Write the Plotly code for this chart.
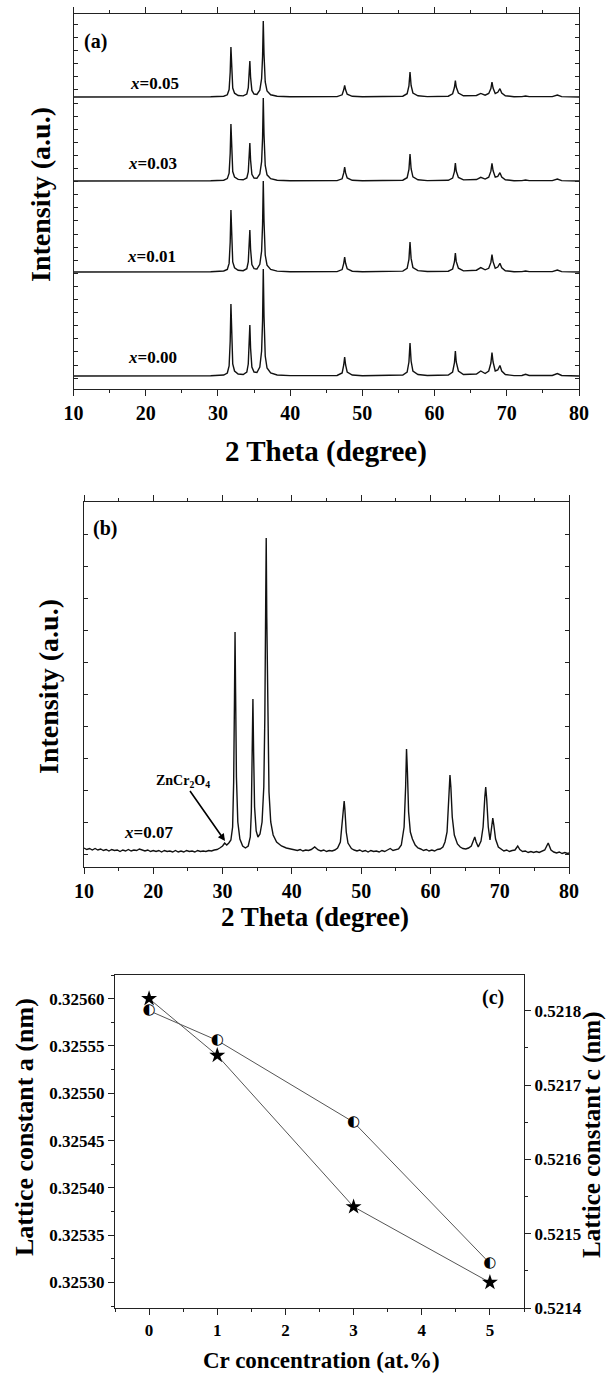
import plotly.graph_objects as go

W, H = 606, 1374
FONT = "Liberation Serif"
INK = "#111111"

# ---------------- Panel (a): stacked XRD patterns ----------------
TT_A = [10, 20, 29, 30.8, 31.3, 31.55, 31.7, 31.8, 31.9, 32.05,
        32.3, 32.8, 33.5, 34.0, 34.2, 34.32, 34.42, 34.52, 34.7, 35.0,
        35.4, 35.8, 36.05, 36.18, 36.28, 36.38, 36.55, 36.8, 37.3, 38.2,
        40, 46.5, 47.2, 47.42, 47.55, 47.68, 47.9, 48.6, 50, 55.6,
        56.2, 56.45, 56.6, 56.75, 57.0, 57.7, 59, 61.9, 62.5, 62.75,
        62.88, 63.0, 63.3, 64.0, 65.8, 66.4, 67.0, 67.5, 67.8, 67.95,
        68.1, 68.4, 68.75, 69.05, 69.3, 69.8, 71, 72.1, 72.6, 73.1,
        76.3, 77.0, 77.6, 80]

I_X000 = [0, 0, 0.3, 1, 3, 10, 35, 72, 38, 12,
          5, 2, 1.5, 4, 12, 32, 51, 28, 9, 4,
          3.5, 9, 25, 55, 107, 60, 20, 8, 3, 1,
          0.4, 0.5, 3, 11, 19, 11, 4, 1, 0.3, 1,
          4, 14, 33, 15, 5, 1.5, 0.5, 1, 4, 13,
          25, 14, 5, 1.5, 2, 5, 2.5, 5, 13, 23.5,
          14, 5, 6, 10.5, 5, 1.5, 0.4, 0.5, 1.7, 0.5,
          0.5, 2.5, 0.5, 0]

I_X001 = [0, 0, 0.3, 1, 2.6, 8.6, 30, 62, 33, 10,
          4.3, 1.7, 1.3, 3.3, 10, 26, 42, 23, 7.4, 3.3,
          3, 7.7, 21, 47, 91, 51, 17, 6.8, 2.6, 0.9,
          0.3, 0.4, 2.4, 8.7, 15, 8.7, 3.2, 0.8, 0.3, 0.9,
          3.6, 12.7, 30, 13.6, 4.5, 1.4, 0.5, 0.8, 3, 10,
          19, 10.6, 3.8, 1.1, 1.8, 4.4, 2.2, 3.7, 9.6, 17.5,
          10.4, 3.7, 5, 8.7, 4.2, 1.2, 0.3, 0.4, 1, 0.4,
          0.4, 2, 0.4, 0]

I_X003 = [0, 0, 0.3, 0.8, 2.4, 7.9, 27.7, 57, 30, 9.5,
          4, 1.6, 1.2, 3, 9, 24, 38, 21, 6.7, 3,
          2.7, 7, 19.4, 42.7, 83, 46.5, 15.5, 6.2, 2.3, 0.8,
          0.3, 0.4, 2.2, 8.1, 14, 8.1, 3, 0.7, 0.2, 0.8,
          3.3, 11.5, 27, 12.3, 4.1, 1.2, 0.4, 0.7, 2.9, 9.4,
          18, 10, 3.6, 1.1, 1.5, 3.7, 1.9, 3.8, 9.8, 17.6,
          10.5, 3.8, 4.7, 8.3, 4, 1.2, 0.3, 0.4, 1, 0.4,
          0.4, 2, 0.4, 0]

I_X005 = [0, 0, 0.3, 0.8, 2.2, 7.5, 25, 50, 27, 9,
          3.8, 1.5, 1.1, 3, 9, 23, 36, 20, 6.6, 3,
          2.6, 6.8, 18.5, 40, 76, 43, 15, 6, 2.2, 0.8,
          0.3, 0.4, 2.2, 7.2, 11.6, 7.2, 2.8, 0.7, 0.2, 0.8,
          3.3, 11, 25, 11.5, 4, 1.2, 0.4, 0.8, 3.2, 9.5,
          16.5, 10, 4, 1.2, 1.5, 3.6, 1.8, 3.5, 8.5, 15,
          9, 3.5, 4.7, 8.3, 4, 1.2, 0.3, 0.4, 1, 0.4,
          0.4, 2, 0.4, 0]

SERIES_A = [I_X000, I_X001, I_X003, I_X005]
OFFSETS_A = [13, 117, 208, 292]
LABELS_A = ["0.00", "0.01", "0.03", "0.05"]

# ---------------- Panel (b): x = 0.07 pattern ----------------
TT_B = [10.0, 10.4, 10.8, 11.2, 11.6, 12.0, 12.4, 12.8, 13.2, 13.6,
        14.0, 14.4, 14.8, 15.2, 15.6, 16.0, 16.4, 16.8, 17.2, 17.6,
        18.0, 18.4, 18.8, 19.2, 19.6, 20.0, 20.4, 20.8, 21.2, 21.6,
        22.0, 22.4, 22.8, 23.2, 23.6, 24.0, 24.4, 24.8, 25.2, 25.6,
        26.0, 26.4, 26.8, 27.2, 27.6, 28.0, 28.4, 28.8, 29.2, 29.6,
        30.0, 30.3, 30.6, 30.9, 31.2, 31.45, 31.6, 31.72, 31.8, 31.88,
        32.0, 32.2, 32.5, 32.9, 33.3, 33.7, 34.0, 34.15, 34.28, 34.38,
        34.48, 34.62, 34.85, 35.1, 35.4, 35.7, 35.95, 36.1, 36.22, 36.3,
        36.38, 36.52, 36.7, 36.95, 37.3, 37.8, 38.5, 39.2, 40.0, 40.8,
        41.2, 41.6, 42.0, 42.4, 42.8, 43.3, 43.8, 44.2, 44.6, 45.0,
        45.4, 45.8, 46.2, 46.6, 47.0, 47.3, 47.45, 47.55, 47.65, 47.85,
        48.1, 48.6, 49.0, 49.4, 49.8, 50.2, 50.6, 51.0, 51.4, 51.8,
        52.2, 52.6, 53.0, 53.4, 53.8, 54.2, 54.6, 55.0, 55.4, 55.8,
        56.2, 56.42, 56.55, 56.68, 56.85, 57.1, 57.4, 57.8, 58.2, 58.6,
        59.0, 59.4, 59.8, 60.2, 60.6, 61.0, 61.4, 61.8, 62.1, 62.4,
        62.65, 62.82, 62.95, 63.15, 63.45, 63.9, 64.3, 64.7, 65.1, 65.5,
        65.9, 66.2, 66.4, 66.6, 66.9, 67.3, 67.6, 67.85, 67.98, 68.12,
        68.35, 68.6, 68.85, 69.0, 69.15, 69.4, 69.8, 70.2, 70.6, 71.0,
        71.4, 71.8, 72.2, 72.6, 72.9, 73.3, 73.7, 74.1, 74.5, 74.9,
        75.3, 75.7, 76.1, 76.5, 77.0, 77.4, 77.8, 78.2, 78.6, 79.0,
        79.4, 79.8, 80.0]

I_X007 = [19, 17.5, 18.5, 17, 18.5, 17, 18, 16.5, 17.5, 16,
          17.5, 16.5, 17, 15.5, 17, 16, 17.5, 16, 17, 16.5,
          18, 17, 16, 17, 15.5, 16.5, 15.5, 16.5, 15, 16.5,
          15.5, 16, 15, 16.5, 15, 16, 15, 16.5, 15.5, 16,
          15, 16.5, 15.5, 16, 15.5, 16.5, 16, 17, 17.5, 19,
          21, 24, 22, 24, 27, 40, 85, 170, 235, 175,
          90, 45, 28, 21, 19, 21, 30, 55, 110, 168,
          115, 60, 36, 30, 33, 45, 80, 150, 260, 329,
          250, 140, 75, 45, 32, 25, 21, 19, 18, 16.5,
          17.5, 16, 17, 16.5, 17.5, 20, 17, 16, 17, 15.5,
          16.5, 16, 17, 19, 25, 45, 62, 66, 58, 35,
          24, 18.5, 17, 16, 17, 15.5, 16.5, 15, 16.5, 15.5,
          16, 15, 16.5, 15.5, 17, 18.5, 16.5, 17, 18, 22,
          40, 80, 118, 95, 55, 35, 28, 22, 19, 18,
          16.5, 17.5, 16, 17, 16, 17.5, 18, 20, 25, 35,
          62, 92, 80, 50, 32, 23, 20, 18.5, 18, 19,
          21, 26, 30, 25, 20, 26, 40, 70, 80, 68,
          40, 27, 42, 49, 42, 28, 20, 17.5, 16, 17,
          15.5, 16.5, 17, 21, 17.5, 15.5, 16, 14.5, 15.5, 14.5,
          15.5, 14.5, 15.5, 17, 24, 17, 15, 14, 15, 13.5,
          14.5, 13.5, 14]

# ---------------- Panel (c): lattice constants ----------------
CR_CONC = [0, 1, 3, 5]
LATTICE_A = [0.32560, 0.32554, 0.32538, 0.32530]
LATTICE_C = [0.52180, 0.52176, 0.52165, 0.52146]


def px(x):
    return x / W


def py(y):
    return 1 - y / H


fig = go.Figure()

for vals, off in zip(SERIES_A, OFFSETS_A):
    fig.add_trace(go.Scatter(x=TT_A, y=[v + off for v in vals], mode="lines",
                             line=dict(color=INK, width=1.4), xaxis="x", yaxis="y",
                             showlegend=False, hoverinfo="skip"))

fig.add_trace(go.Scatter(x=TT_B, y=I_X007, mode="lines",
                         line=dict(color=INK, width=1.4), xaxis="x2", yaxis="y2",
                         showlegend=False, hoverinfo="skip"))

fig.add_trace(go.Scatter(x=CR_CONC, y=LATTICE_A, mode="lines+markers",
                         line=dict(color="#555555", width=1),
                         marker=dict(symbol="star", size=12, color="black"),
                         xaxis="x3", yaxis="y3", showlegend=False))
fig.add_trace(go.Scatter(x=CR_CONC, y=LATTICE_C, mode="lines+markers+text",
                         line=dict(color="#555555", width=1),
                         marker=dict(symbol="circle", size=10, color="white", line=dict(width=0)),
                         text=["\u25d0"] * len(CR_CONC), textposition="middle center",
                         textfont=dict(family="DejaVu Sans", size=15, color="black"),
                         xaxis="x3", yaxis="y4", showlegend=False))

AX = dict(showline=True, linecolor="#222222", linewidth=1.3, showgrid=False,
          zeroline=False, tickcolor="#222222", automargin=False)
TICKF = dict(family=FONT, size=20, color="black", weight="bold")

xa = dict(AX, range=[10, 80], tickvals=[10, 20, 30, 40, 50, 60, 70, 80], ticks="outside",
          ticklen=6, tickwidth=1.2, mirror="ticks", tickfont=TICKF,
          minor=dict(dtick=5, ticklen=3, ticks="outside", tickcolor="#222222"))
fig.update_layout(
    width=W, height=H, margin=dict(l=0, r=0, t=0, b=0, pad=0, autoexpand=False),
    paper_bgcolor="white", plot_bgcolor="white",
    xaxis=dict(xa, domain=[px(73.5), px(579)], anchor="y"),
    yaxis=dict(AX, domain=[py(389), py(14)], range=[0, 375], anchor="x",
               showticklabels=False, ticks="inside", tick0=24, dtick=13.1,
               ticklen=4, mirror="ticks"),
    xaxis2=dict(xa, domain=[px(84), px(569)], anchor="y2"),
    yaxis2=dict(AX, domain=[py(867), py(502)], range=[0, 365], anchor="x2",
                showticklabels=False, ticks="inside", tick0=13, dtick=32,
                ticklen=4, mirror="ticks"),
    xaxis3=dict(AX, domain=[px(115), px(524)], anchor="y3", range=[-0.5, 5.5],
                dtick=1, ticks="outside", ticklen=6, mirror=True,
                tickfont=dict(TICKF, size=17),
                minor=dict(dtick=0.5, ticklen=3, ticks="outside", tickcolor="#222222")),
    yaxis3=dict(AX, domain=[py(1308), py(975)], anchor="x3",
                range=[0.325273, 0.325625], dtick=0.00005, tick0=0.3253,
                tickformat=".5f", ticks="outside", ticklen=6,
                tickfont=dict(TICKF, size=17),
                minor=dict(dtick=0.000025, ticklen=3, ticks="outside", tickcolor="#222222")),
    yaxis4=dict(AX, overlaying="y3", side="right", anchor="x3",
                range=[0.5214, 0.521848], dtick=0.0001, tick0=0.5214,
                tickformat=".4f", ticks="outside", ticklen=6,
                tickfont=dict(TICKF, size=17),
                minor=dict(dtick=0.00005, ticklen=3, ticks="outside", tickcolor="#222222")),
)


def note(text, x, y, size, angle=0, family=FONT):
    fig.add_annotation(text=text, x=px(x), y=py(y), xref="paper", yref="paper",
                       showarrow=False, xanchor="center", yanchor="middle",
                       textangle=angle,
                       font=dict(family=family, size=size, color="black", weight="bold"))


# panel (a) texts
note("(a)", 95, 42, 20)
label_px = [(152, 357), (151.5, 256), (152.7, 164), (154.6, 83)]
for lab, (lx, ly) in zip(LABELS_A, label_px):
    note("<i>x</i>=" + lab, lx, ly, 17)
note("Intensity (a.u.)", 40, 194, 28, angle=-90)
note("2 Theta (degree)", 326, 451, 29)

# panel (b) texts
note("(b)", 105, 528, 20)
note("<i>x</i>=0.07", 148, 833, 17)
fig.add_annotation(text="ZnCr<sub>2</sub>O<sub>4</sub>", x=px(225), y=py(841),
                   xref="paper", yref="paper", ax=-42, ay=-60,
                   showarrow=True, arrowhead=2, arrowsize=0.9, arrowwidth=1.6,
                   arrowcolor="black", standoff=0,
                   font=dict(family=FONT, size=14, color="black", weight="bold"))
note("Intensity (a.u.)", 48, 687, 28, angle=-90)
note("2 Theta (degree)", 315, 917, 27)

# panel (c) texts
note("(c)", 493, 997, 20)
note("Lattice constant a (nm)", 24, 1127, 26, angle=-90)
note("Lattice constant c (nm)", 592, 1135, 25, angle=-90)
note("Cr concentration (at.%)", 321, 1360, 23)

fig.write_html("out.html", config={"displayModeBar": False},
               post_script="document.body.style.margin='0';")
